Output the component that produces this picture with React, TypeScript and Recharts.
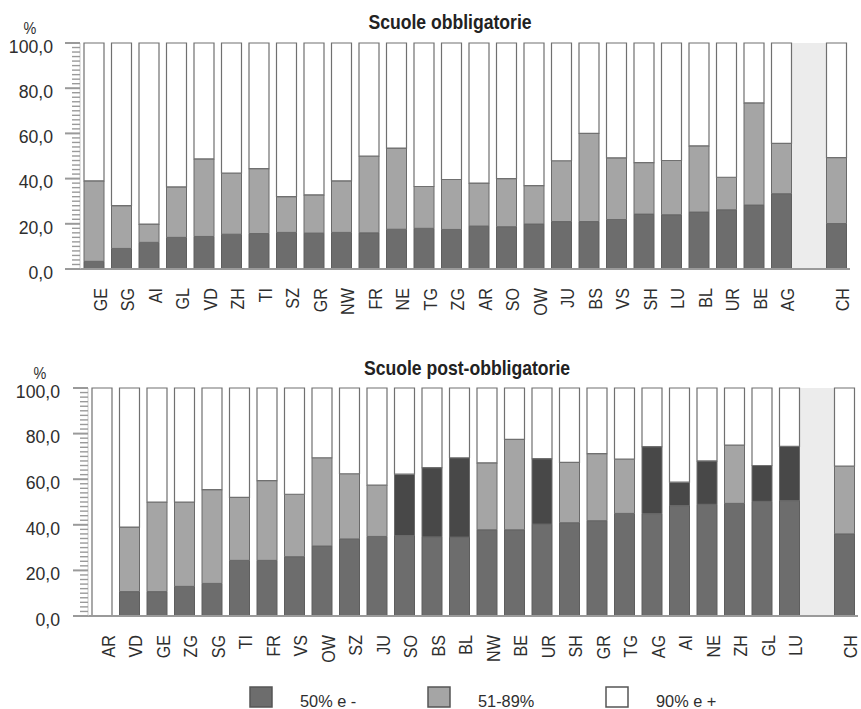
import { Bar, BarChart, Cell, ReferenceArea, XAxis, YAxis } from "recharts";

const FONT = "'Liberation Sans', Arial, sans-serif";
const C_LOW = "#6d6d6d";
const C_MID = "#a5a5a5";
const C_DARK = "#484848";
const C_HIGH = "#ffffff";
const GAP = " ";

// Scuole obbligatorie
const topCantons = ["GE", "SG", "AI", "GL", "VD", "ZH", "TI", "SZ", "GR", "NW", "FR", "NE", "TG", "ZG", "AR", "SO", "OW", "JU", "BS", "VS", "SH", "LU", "BL", "UR", "BE", "AG"];
const topLow = [3.4, 9.1, 11.8, 14.0, 14.4, 15.4, 15.7, 16.2, 15.9, 16.2, 16.0, 17.6, 18.0, 17.5, 19.0, 18.7, 19.9, 21.0, 21.0, 21.9, 24.3, 24.0, 25.2, 26.2, 28.3, 33.3];
const topMid = [35.6, 18.9, 8.1, 22.3, 34.3, 27.0, 28.7, 15.8, 16.9, 22.8, 34.0, 35.9, 18.5, 22.1, 19.0, 21.3, 17.0, 26.9, 39.0, 27.3, 22.8, 24.0, 29.3, 14.4, 45.2, 22.3];
const topCH = { low: 20.1, mid: 29.2 };

// Scuole post-obbligatorie
const botCantons = ["AR", "VD", "GE", "ZG", "SG", "TI", "FR", "VS", "OW", "SZ", "JU", "SO", "BS", "BL", "NW", "BE", "UR", "SH", "GR", "TG", "AG", "AI", "NE", "ZH", "GL", "LU"];
const botLow = [0, 10.7, 10.7, 13.0, 14.3, 24.4, 24.4, 26.0, 30.7, 33.8, 34.9, 35.3, 34.7, 34.6, 37.8, 37.8, 40.3, 40.9, 41.8, 45.0, 44.9, 48.4, 49.0, 49.4, 50.3, 50.6];
const botMid = [0, 28.3, 39.3, 37.0, 41.1, 27.6, 35.0, 27.4, 38.7, 28.6, 22.5, 26.9, 30.4, 34.8, 29.4, 39.7, 28.7, 26.5, 29.4, 23.8, 29.4, 10.3, 19.0, 25.6, 15.7, 23.8];
const botCH = { low: 36.0, mid: 29.7 };
// middle segment printed in a darker tone in the source
const botDarkMid = ["SO", "BS", "BL", "UR", "AG", "AI", "NE", "GL", "LU"];

const yMajor = [0, 20, 40, 60, 80, 100];
const yTicks = Array.from({ length: 51 }, (_, i) => i * 2);

const legendItems = [
  { label: "50% e -", color: C_LOW },
  { label: "51-89%", color: C_MID },
  { label: "90% e +", color: C_HIGH },
];

type Row = { name: string; low?: number; mid?: number; high?: number; dark?: boolean };

function buildRows(cats: string[], low: number[], mid: number[], ch: { low: number; mid: number }, dark: string[] = []): Row[] {
  const rows: Row[] = cats.map((c, i) => ({
    name: c,
    low: low[i],
    mid: mid[i],
    high: +(100 - low[i] - mid[i]).toFixed(1),
    dark: dark.includes(c),
  }));
  rows.push({ name: GAP });
  rows.push({ name: "CH", low: ch.low, mid: ch.mid, high: +(100 - ch.low - ch.mid).toFixed(1) });
  return rows;
}

// condensed look: Arial-metric font squeezed horizontally along the text direction
function NText({ x, y, rot = 0, sx = 0.85, size = 18, anchor = "start", bold = false, fill = "#2e2e2e", dy, children }: any) {
  return (
    <text
      transform={`translate(${x},${y}) rotate(${rot}) scale(${sx},1)`}
      dy={dy}
      textAnchor={anchor}
      fontSize={size}
      fontWeight={bold ? "bold" : "normal"}
      fontFamily={FONT}
      fill={fill}
    >
      {children}
    </text>
  );
}

const makeYTick = (axisX: number, labelGap: number) => (props: any) => {
  const { y, payload } = props;
  const v = payload.value as number;
  const major = yMajor.includes(v);
  return (
    <g>
      <line x1={axisX - (major ? 15 : 8)} x2={axisX} y1={y} y2={y} stroke="#9a9a9a" strokeWidth={major ? 2 : 1.4} />
      {major && (
        <NText x={axisX - labelGap} y={y + 3} dy="0.36em" anchor="end" size={19} sx={0.93}>
          {v.toFixed(1).replace(".", ",")}
        </NText>
      )}
    </g>
  );
};

const XTick = (props: any) => {
  const { x, y, payload } = props;
  if (payload.value === GAP) return <g />;
  return (
    <NText x={x + 6} y={y} rot={-90} dy="0.36em" anchor="end" size={19} sx={0.85}>
      {payload.value}
    </NText>
  );
};

const GapShape = (p: any) => <rect x={p.x - 3.5} y={p.y} width={p.width + 7} height={p.height} fill="#ececec" />;

function Panel({ rows, axisX, plotTop, plotH, rightPad, labelGap }: { rows: Row[]; axisX: number; plotTop: number; plotH: number; rightPad: number; labelGap: number }) {
  return (
    <BarChart
      width={861}
      height={plotTop + plotH + 60}
      data={rows}
      margin={{ top: plotTop, right: rightPad, bottom: 0, left: 0 }}
      barSize={20}
    >
      <ReferenceArea x1={GAP} x2={GAP} y1={0} y2={100} shape={GapShape} ifOverflow="visible" />
      <XAxis
        dataKey="name"
        interval={0}
        height={60}
        tick={XTick}
        tickLine={false}
        tickSize={0}
        tickMargin={19}
        axisLine={{ stroke: "#9a9a9a", strokeWidth: 2 }}
      />
      <YAxis
        width={axisX}
        domain={[0, 100]}
        ticks={yTicks}
        interval={0}
        tick={makeYTick(axisX, labelGap)}
        tickLine={false}
        axisLine={{ stroke: "#c8c8c8" }}
      />
      <Bar dataKey="low" stackId="a" fill={C_LOW} stroke="#5e5e5e" strokeWidth={1} isAnimationActive={false} />
      <Bar dataKey="mid" stackId="a" fill={C_MID} stroke="#6a6a6a" strokeWidth={1} isAnimationActive={false}>
        {rows.map((r) => (
          <Cell key={r.name} fill={r.dark ? C_DARK : C_MID} />
        ))}
      </Bar>
      <Bar dataKey="high" stackId="a" fill={C_HIGH} stroke="#707070" strokeWidth={1.2} isAnimationActive={false} />
    </BarChart>
  );
}

export default function App() {
  const topRows = buildRows(topCantons, topLow, topMid, topCH);
  const botRows = buildRows(botCantons, botLow, botMid, botCH, botDarkMid);
  return (
    <div style={{ position: "absolute", left: 0, top: 0, width: 861, height: 709, background: "#fff", overflow: "hidden" }}>
      <div style={{ position: "absolute", left: 0, top: 0 }}>
        <Panel rows={topRows} axisX={80} plotTop={43} plotH={226} rightPad={11} labelGap={27} />
      </div>
      <div style={{ position: "absolute", left: 0, top: 330 }}>
        <Panel rows={botRows} axisX={88} plotTop={58} plotH={228} rightPad={3} labelGap={28} />
      </div>
      <svg width={861} height={709} style={{ position: "absolute", left: 0, top: 0, pointerEvents: "none" }}>
        <NText x={30} y={34} anchor="middle" size={16} sx={0.9}>%</NText>
        <NText x={450} y={29} anchor="middle" size={20} sx={0.88} bold fill="#222">Scuole obbligatorie</NText>
        <NText x={40} y={379} anchor="middle" size={16} sx={0.9}>%</NText>
        <NText x={467} y={375} anchor="middle" size={20} sx={0.88} bold fill="#222">Scuole post-obbligatorie</NText>
        {legendItems.map((it, i) => {
          const x0 = 250 + i * 178;
          return (
            <g key={it.label}>
              <rect x={x0} y={687} width={22} height={20} fill={it.color} stroke="#555" strokeWidth={1.5} />
              <NText x={x0 + 50} y={707} size={16} sx={1.02}>{it.label}</NText>
            </g>
          );
        })}
      </svg>
    </div>
  );
}
